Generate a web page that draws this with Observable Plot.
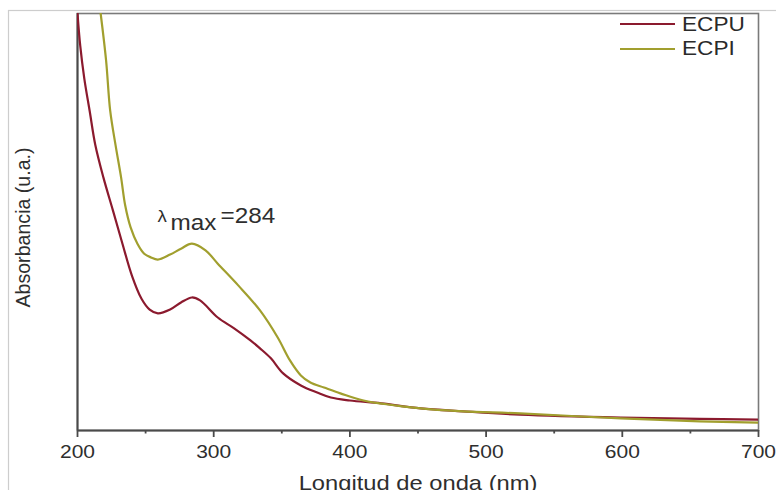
<!DOCTYPE html>
<html><head><meta charset="utf-8">
<script src="https://cdn.jsdelivr.net/npm/d3@7"></script>
<script src="https://cdn.jsdelivr.net/npm/@observablehq/plot@0.6"></script>
<style>
html,body{margin:0;padding:0;background:#fff;}
#chart{position:relative;width:776px;height:490px;overflow:hidden;font-family:"Liberation Sans",Arial,sans-serif;}
.sw{position:absolute;height:2px;}
.lt{position:absolute;font-size:20px;color:#2a2a2a;transform:scaleX(1.13);transform-origin:0 0;white-space:nowrap;line-height:20px;}
</style></head><body><div id="chart"></div>
<script>
// Series names and colours
const seriesNames = ["ECPU", "ECPI"];
const seriesColors = ["#8b1a2e", "#a19f2e"];

// ECPU spectrum (wavelength nm, absorbance a.u.)
const ecpuNm  = [200, 202, 205, 209, 213, 219, 226, 233, 240, 247, 253, 259, 268, 276, 284, 290, 303, 315, 327, 334, 342, 351, 364, 376, 386, 400, 423, 452, 483, 525, 599, 657, 700];
const ecpuAbs = [1.00, 0.923, 0.844, 0.765, 0.686, 0.607, 0.528, 0.448, 0.371, 0.316, 0.290, 0.281, 0.290, 0.307, 0.319, 0.312, 0.271, 0.245, 0.216, 0.197, 0.173, 0.137, 0.108, 0.091, 0.079, 0.072, 0.065, 0.053, 0.046, 0.038, 0.031, 0.028, 0.026];

// ECPI spectrum
const ecpiNm  = [217, 221, 224, 228, 232, 235, 239, 244, 249, 254, 259, 268, 276, 284, 294, 303, 318, 334, 347, 356, 364, 371, 381, 393, 410, 452, 483, 525, 599, 657, 700];
const ecpiAbs = [1.00, 0.887, 0.767, 0.683, 0.607, 0.540, 0.487, 0.448, 0.424, 0.415, 0.410, 0.422, 0.436, 0.448, 0.432, 0.400, 0.348, 0.288, 0.223, 0.168, 0.132, 0.115, 0.103, 0.089, 0.072, 0.053, 0.046, 0.041, 0.029, 0.022, 0.019];

// Axis ticks and labels
const xTicks = [200, 300, 400, 500, 600, 700];
const xMinorTicks = [250, 350, 450, 550, 650];
const xLabel = "Longitud de onda (nm)";
const yLabel = "Absorbancia (u.a.)";
const peakNm = 284;

const ecpu = ecpuNm.map((nm, i) => ({nm, abs: ecpuAbs[i], series: seriesNames[0]}));
const ecpi = ecpiNm.map((nm, i) => ({nm, abs: ecpiAbs[i], series: seriesNames[1]}));
const peak = {nm: peakNm, abs: ecpiAbs[ecpiNm.indexOf(peakNm)]};

const font = '"Liberation Sans", Arial, sans-serif';
const txt = "#2e2e2e";

const plot = Plot.plot({
  width: 776, height: 490,
  marginLeft: 77, marginRight: 18, marginTop: 13, marginBottom: 60,
  style: {fontFamily: font, background: "white"},
  x: {domain: [200, 700]},
  y: {domain: [0, 1], axis: null},
  marks: [
    Plot.frame({stroke: "#cdcdcd", strokeWidth: 1.2, insetLeft: -69, insetTop: -3, insetRight: -40, insetBottom: -80}),
    Plot.frame({stroke: "#7a7a7a", strokeWidth: 1.6}),
    Plot.ruleX([200], {stroke: "#4a4a4a", strokeWidth: 2}),
    Plot.ruleY([0], {stroke: "#4a4a4a", strokeWidth: 2}),
    Plot.axisX({ticks: xTicks, tickSize: 7, tickPadding: 7, fontSize: 18.6, label: null, stroke: "#4a4a4a", strokeWidth: 1.8, fill: txt, tickFormat: d => String(d)}),
    Plot.axisX({ticks: xMinorTicks, tickSize: 3.5, label: null, stroke: "#4a4a4a", strokeWidth: 1.8, tickFormat: () => ""}),
    Plot.line(ecpu, {x: "nm", y: "abs", stroke: seriesColors[0], strokeWidth: 2.2, curve: "catmull-rom", clip: true}),
    Plot.line(ecpi, {x: "nm", y: "abs", stroke: seriesColors[1], strokeWidth: 2.2, curve: "catmull-rom", clip: true}),
    Plot.text([xLabel], {text: d => d, frameAnchor: "bottom", textAnchor: "middle", dy: 59, lineAnchor: "bottom", fontSize: 21, fill: txt}),
    Plot.text([yLabel], {text: d => d, frameAnchor: "left", textAnchor: "middle", rotate: -90, dx: -48, dy: 5.5, lineAnchor: "bottom", fontSize: 19.6, fill: txt}),
    Plot.text([peak], {x: "nm", y: "abs", text: () => "λ", dx: -34.4, dy: -22, textAnchor: "start", lineAnchor: "bottom", fontSize: 16.5, fill: txt}),
    Plot.text([peak], {x: "nm", y: "abs", text: () => "max", dx: -21.4, dy: -14, textAnchor: "start", lineAnchor: "bottom", fontSize: 21.5, fill: txt}),
    Plot.text([peak], {x: "nm", y: "abs", text: d => "=" + d.nm, dx: 28.6, dy: -21, textAnchor: "start", lineAnchor: "bottom", fontSize: 21.5, fill: txt})
  ]
});

const chart = document.getElementById("chart");
chart.appendChild(plot);

// Horizontal stretch of the reference's lettering
plot.querySelectorAll("text").forEach(t => {
  const tr = t.getAttribute("transform") || "";
  if (tr.includes("rotate")) return;
  const L = t.getComputedTextLength();
  if (L > 0) {
    t.setAttribute("textLength", (L * 1.13).toFixed(2));
    t.setAttribute("lengthAdjust", "spacingAndGlyphs");
  }
});

// Legend (line swatches + names), upper right inside the frame
const legendRows = [{sw: 23, tx: 13.8}, {sw: 48.3, tx: 38.2}];
seriesNames.forEach((name, i) => {
  const sw = document.createElement("div");
  sw.className = "sw";
  sw.style.left = "620px"; sw.style.width = "55px";
  sw.style.top = legendRows[i].sw + "px";
  sw.style.background = seriesColors[i];
  chart.appendChild(sw);
  const t = document.createElement("div");
  t.className = "lt";
  t.style.left = "682px";
  t.style.top = legendRows[i].tx + "px";
  t.textContent = name;
  chart.appendChild(t);
});
</script>
</body></html>
